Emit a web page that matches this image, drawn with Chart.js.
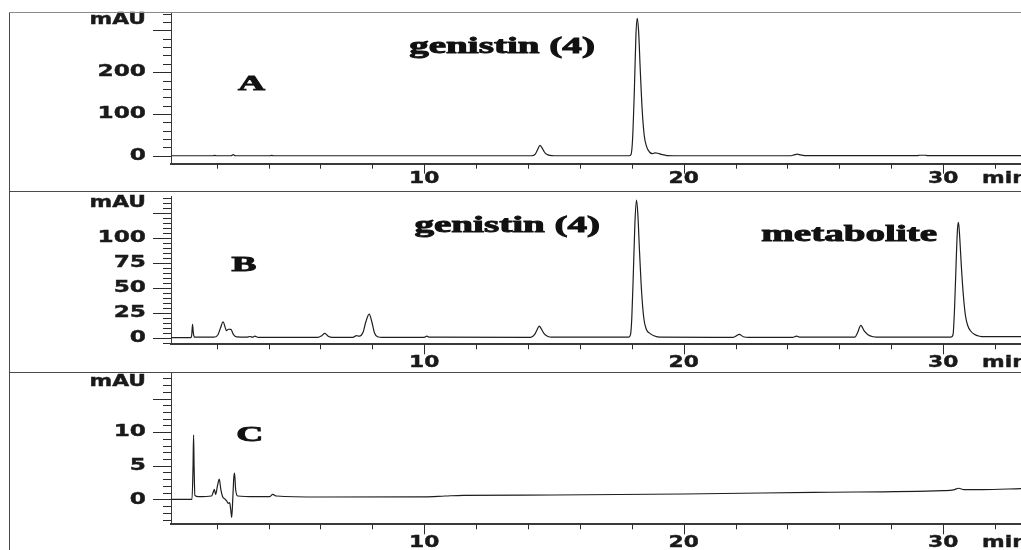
<!DOCTYPE html>
<html>
<head>
<meta charset="utf-8">
<script src="https://cdn.jsdelivr.net/npm/chart.js@4.4.1/dist/chart.umd.min.js"></script>
<style>
  body { margin: 0; background: #fff; }
  #fig { position: relative; width: 1021px; height: 550px; overflow: hidden; background: #fff; }
  #fig canvas { position: absolute; left: 0; }
  .rule { position: absolute; background: #4a4a4a; }
</style>
</head>
<body>
<div id="fig">
  <canvas id="cvA" width="1021" height="191" style="top:0"></canvas>
  <canvas id="cvB" width="1021" height="181" style="top:191px"></canvas>
  <canvas id="cvC" width="1021" height="178" style="top:372px"></canvas>
  <div class="rule" style="left:9px;top:12px;width:1px;height:538px"></div>
  <div class="rule" style="left:9px;top:12px;width:1012px;height:1px;background:#8a8a8a"></div>
  <div class="rule" style="left:9px;top:191px;width:1012px;height:1px"></div>
  <div class="rule" style="left:9px;top:372px;width:1012px;height:1px"></div>
</div>
<script>
// ---- HPLC traces: retention time (min) / absorbance (mAU) ----
const timeA = [0.25, 1.85, 1.92, 2.0, 2.55, 2.64, 2.72, 4.05, 4.12, 4.2, 11.0,
  14.15, 14.28, 14.38, 14.46, 14.54, 14.63, 14.72, 14.85, 15.0,
  17.9, 17.97, 18.03, 18.1, 18.16, 18.21, 18.26, 18.33, 18.4, 18.48, 18.57, 18.68, 18.8, 18.9, 19.0, 19.15, 19.35, 20.0,
  24.1, 24.25, 24.37, 24.5, 24.65, 29.0, 29.1, 29.3, 29.4, 33.0];
const absA = [0, 0, 0.8, 0, 0, 2.5, 0, 0, 0.8, 0, 0,
  0, 4, 16, 25, 19, 9, 3.5, 0.8, 0,
  0, 3, 40, 160, 290, 329, 300, 200, 110, 48, 22, 9, 5, 7, 6, 3, 0.5, 0,
  0, 2, 4, 2, 0.3, 0.3, 1.2, 1.2, 0.3, 0.3];

const timeB = [0.25, 1.0, 1.04, 1.07, 1.1, 1.14, 1.9, 2.05, 2.15, 2.25, 2.32, 2.38, 2.45, 2.55, 2.65, 2.77,
  3.15, 3.28, 3.38, 3.47, 3.6, 5.9, 6.05, 6.17, 6.3, 6.45,
  7.25, 7.39, 7.5, 7.65, 7.75, 7.88, 7.98, 8.08, 8.2, 8.4, 10.0, 10.1, 10.2,
  14.1, 14.25, 14.35, 14.43, 14.52, 14.62, 14.75, 14.9,
  17.88, 17.95, 18.0, 18.06, 18.12, 18.18, 18.23, 18.3, 18.38, 18.46, 18.55, 18.7, 18.85, 19.1,
  21.9, 22.0, 22.14, 22.3, 22.5, 24.2, 24.35, 24.5,
  26.6, 26.7, 26.83, 26.95, 27.1, 27.3, 27.6,
  30.3, 30.38, 30.44, 30.5, 30.55, 30.59, 30.64, 30.7, 30.78, 30.86, 30.95, 31.05, 31.2, 31.4, 31.6, 33.0];
const absB = [0, 0, 3, 13.3, 5, 0.5, 0.5, 3, 10, 16, 11, 7, 8.5, 8.3, 3, 0.8,
  0.5, 1.2, 0.5, 1.5, 0.3, 0.3, 2, 4.3, 1.5, 0.3,
  0.3, 2, 1.5, 6, 16, 23.6, 16, 5, 1, 0.3, 0.3, 1.5, 0.5,
  0.3, 3, 8, 11.6, 8.5, 4, 1.5, 0.5,
  0.5, 3, 20, 65, 115, 138, 125, 85, 45, 20, 9, 4.3, 2, 0.5,
  0.3, 1.5, 3.3, 1, 0.3, 0.3, 1.5, 0.5,
  0.5, 5, 12.3, 7, 3, 1, 0.5,
  0.5, 3, 30, 75, 108, 115.5, 100, 72, 42, 22, 12, 7, 3.5, 1.5, 1, 1];

const timeC = [0.25, 1.05, 1.09, 1.11, 1.13, 1.16, 1.3, 1.8, 1.88, 1.91, 1.96, 2.03, 2.1, 2.16, 2.23,
  2.3, 2.38, 2.45, 2.5, 2.55, 2.58, 2.62, 2.66, 2.69, 2.73, 2.81, 3.5, 4.05, 4.16, 4.3,
  6.0, 10.0, 10.8, 11.5, 15.0, 20.0, 25.0, 30.0, 30.4, 30.6, 30.8, 31.5, 33.0];
const absC = [0, 0, 5, 9.55, 5, 0.6, 0.4, 0.5, 1.2, 1.5, 0.7, 2, 3.0, 1.5, 0.4,
  0.1, -0.2, -0.6, -0.5, -1.8, -2.7, 0, 3.2, 3.9, 1.5, 0.5, 0.4, 0.4, 0.75, 0.5,
  0.35, 0.38, 0.5, 0.6, 0.65, 0.8, 1.05, 1.3, 1.4, 1.65, 1.45, 1.45, 1.6];

const xTickLabels = [10, 20, 30];
const yLabelsA = [0, 100, 200];
const yLabelsB = [0, 25, 50, 75, 100];
const yLabelsC = [0, 5, 10];
const panelLetters = ["A", "B", "C"];
const peakNames = ["genistin (4)", "metabolite"];

// draws text stretched horizontally like the scanned figure; optional stroke for extra weight
function stretchText(ctx, text, px, py, align, sx, heavy) {
  ctx.save();
  ctx.translate(px, py);
  ctx.scale(sx, 1);
  ctx.textAlign = align;
  ctx.fillText(text, 0, 0);
  if (heavy) {
    ctx.lineWidth = heavy;
    ctx.strokeStyle = ctx.fillStyle;
    ctx.strokeText(text, 0, 0);
  }
  ctx.restore();
}

const chromDecor = {
  id: "chromDecor",
  afterDraw(chart, _args, o) {
    const { ctx } = chart;
    const { x, y } = chart.scales;
    const left = chart.chartArea.left, bottom = chart.chartArea.bottom;
    ctx.save();
    ctx.strokeStyle = "#2b2b2b";
    ctx.lineWidth = 1;
    ctx.beginPath();
    for (let k = Math.ceil(y.min / o.yMinor); k * o.yMinor <= y.max; k++) {
      const v = k * o.yMinor;
      const py = Math.round(y.getPixelForValue(v)) + 0.5;
      const len = v % o.yMajor === 0 ? 18 : 8;
      ctx.moveTo(left - len, py); ctx.lineTo(left, py);
    }
    for (let k = Math.ceil(x.min / 2); k * 2 <= x.max; k++) {
      const v = k * 2;
      const px = Math.round(x.getPixelForValue(v)) + 0.5;
      const len = v % 10 === 0 ? 10 : 5;
      ctx.moveTo(px, bottom); ctx.lineTo(px, bottom + len);
    }
    ctx.stroke();

    ctx.fillStyle = "#1a1a1a";
    ctx.textBaseline = "middle";
    ctx.font = "bold 16px 'DejaVu Sans'";
    o.yLabels.forEach((v) => stretchText(ctx, String(v), left - 25, y.getPixelForValue(v), "right", 1.45, 0.4));
    ctx.font = "bold 15px 'DejaVu Sans'";
    stretchText(ctx, "mAU", left - 25, y.getPixelForValue(o.mauAt), "right", 1.45, 0.4);
    xTickLabels.forEach((v) => stretchText(ctx, String(v), x.getPixelForValue(v), bottom + o.xLabelDy, "center", 1.45, 0.4));
    stretchText(ctx, "min", x.getPixelForValue(31.5), bottom + o.xLabelDy, "left", 1.45, 0.4);

    ctx.textBaseline = "alphabetic";
    ctx.fillStyle = "#111";
    o.notes.forEach((n) => {
      ctx.font = `bold ${n.size}px 'Liberation Serif'`;
      stretchText(ctx, n.text, x.getPixelForValue(n.x), y.getPixelForValue(n.y), "center", 1.7, 0.9);
    });
    ctx.restore();
  },
};

const panels = [
  { id: "cvA", time: timeA, abs: absA, yMin: -19, yMax: 344, yMinor: 20, yMajor: 100, yLabels: yLabelsA,
    mauAt: 324, pad: { top: 12, bottom: 27.3 }, xLabelDy: 15,
    notes: [{ text: panelLetters[0], x: 3.34, y: 158, size: 22 }, { text: peakNames[0], x: 13.0, y: 246, size: 23 }] },
  { id: "cvB", time: timeB, abs: absB, yMin: -6.6, yMax: 142, yMinor: 5, yMajor: 25, yLabels: yLabelsB,
    mauAt: 135, pad: { top: 5, bottom: 27.7 }, xLabelDy: 19,
    notes: [{ text: panelLetters[1], x: 3.05, y: 66.4, size: 22 }, { text: peakNames[0], x: 13.2, y: 105.6, size: 23 },
            { text: peakNames[1], x: 26.38, y: 97.3, size: 23 }] },
  { id: "cvC", time: timeC, abs: absC, yMin: -3.71, yMax: 18.87, yMinor: 1, yMajor: 5, yLabels: yLabelsC,
    mauAt: 17.5, pad: { top: 0.5, bottom: 25.7 }, xLabelDy: 18.7,
    notes: [{ text: panelLetters[2], x: 3.28, y: 8.66, size: 22 }] },
];

panels.forEach((p) => {
  new Chart(document.getElementById(p.id).getContext("2d"), {
    type: "line",
    plugins: [chromDecor],
    data: {
      datasets: [{
        data: p.time.map((t, i) => ({ x: t, y: p.abs[i] })),
        borderColor: "#1e1e1e", borderWidth: 1.2, pointRadius: 0,
        cubicInterpolationMode: "monotone", fill: false,
      }],
    },
    options: {
      responsive: false, animation: false, events: [],
      layout: { padding: { left: 171, right: 0, top: p.pad.top, bottom: p.pad.bottom } },
      plugins: {
        legend: { display: false }, tooltip: { enabled: false },
        chromDecor: p,
      },
      scales: {
        x: { type: "linear", min: 0.24, max: 33.0, grid: { display: false }, ticks: { display: false },
             border: { color: "#3a3a3a", width: 2 }, afterFit: (s) => { s.height = 0; } },
        y: { type: "linear", min: p.yMin, max: p.yMax, grid: { display: false }, ticks: { display: false },
             border: { color: "#3a3a3a", width: 1 }, afterFit: (s) => { s.width = 0; } },
      },
    },
  });
});
</script>
</body>
</html>
